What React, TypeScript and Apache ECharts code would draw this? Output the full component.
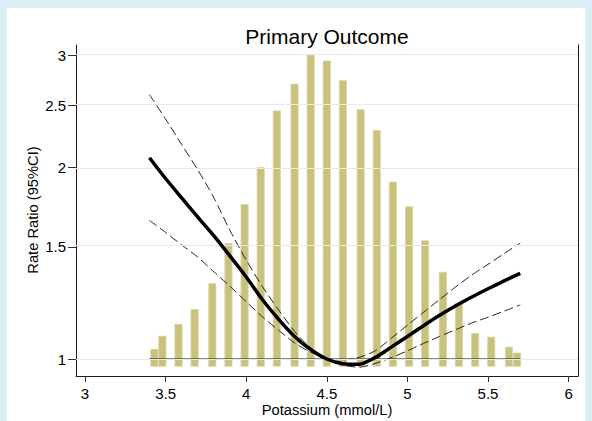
import React, { useEffect, useRef } from "react";
import * as echarts from "echarts";

// Histogram of potassium values (bar centre, relative frequency %)
const barX = [3.43, 3.48, 3.58, 3.68, 3.79, 3.89, 3.99, 4.09, 4.19, 4.3, 4.4, 4.5, 4.6, 4.71, 4.81, 4.91, 5.01, 5.11, 5.22, 5.32, 5.42, 5.52, 5.63, 5.68];
const barPct = [0.57, 0.99, 1.37, 1.85, 2.68, 3.96, 5.21, 6.4, 8.21, 9.07, 10.0, 9.81, 9.18, 8.25, 7.58, 5.93, 5.14, 4.05, 3.04, 2.04, 1.08, 0.96, 0.64, 0.45];

// Spline rate ratio and 95% CI
const curveX = [3.4, 3.5, 3.6, 3.7, 3.8, 3.9, 4.0, 4.1, 4.2, 4.3, 4.4, 4.5, 4.6, 4.7, 4.8, 4.9, 5.0, 5.1, 5.2, 5.3, 5.4, 5.5, 5.6, 5.7];
const rr = [2.07, 1.92, 1.79, 1.67, 1.56, 1.45, 1.345, 1.24, 1.155, 1.085, 1.035, 1.0, 0.983, 0.981, 1.005, 1.044, 1.085, 1.128, 1.171, 1.212, 1.251, 1.289, 1.326, 1.363];
const rrUpper = [2.6, 2.38, 2.17, 1.98, 1.79, 1.59, 1.43, 1.3, 1.195, 1.105, 1.04, 1.0, 0.997, 1.006, 1.03, 1.078, 1.13, 1.184, 1.24, 1.298, 1.355, 1.408, 1.464, 1.52];
const rrLower = [1.65, 1.58, 1.51, 1.445, 1.37, 1.3, 1.23, 1.165, 1.11, 1.06, 1.025, 1.0, 0.978, 0.971, 0.984, 1.005, 1.03, 1.058, 1.085, 1.112, 1.139, 1.163, 1.189, 1.216];

const refX = [3.4, 5.7];
const refY = [1, 1];

const xTicks = [3, 3.5, 4, 4.5, 5, 5.5, 6];
const yTicks = [1, 1.5, 2, 2.5, 3];

const FONT = "'Liberation Sans', Arial, sans-serif";

export default function App() {
  const ref = useRef<HTMLDivElement>(null);

  useEffect(() => {
    if (!ref.current) return;
    const chart = echarts.init(ref.current, undefined, { renderer: "svg" });
    const ln = (v: number) => Math.log(v);
    const pairs = (xs: number[], ys: number[]) => xs.map((x, i) => [x, ln(ys[i])]);
    const dashed = {
      type: "line",
      showSymbol: false,
      symbol: "none",
      smooth: 0.25,
      lineStyle: { color: "#222", width: 1, type: [9, 4] },
      z: 4,
      silent: true,
    };
    chart.setOption({
      animation: false,
      grid: { left: 76, top: 45, width: 502, height: 331 },
      xAxis: {
        type: "value",
        min: 2.9442,
        max: 6.0583,
        axisLine: { show: true, onZero: false, lineStyle: { color: "#1a1a1a", width: 1 } },
        axisTick: { show: true, length: 6, customValues: xTicks, lineStyle: { color: "#333" } },
        axisLabel: { customValues: xTicks, margin: 10, fontSize: 15, color: "#000", fontFamily: FONT },
        splitLine: { show: false },
      },
      yAxis: [
        {
          type: "value",
          min: -0.0614,
          max: 1.1348,
          axisLine: { show: true, onZero: false, lineStyle: { color: "#1a1a1a", width: 1 } },
          axisTick: { show: true, length: 8, customValues: yTicks.map(ln), lineStyle: { color: "#333" } },
          axisLabel: {
            customValues: yTicks.map(ln),
            formatter: (v: number) => String(+Math.exp(v).toFixed(2)),
            margin: 10,
            fontSize: 15,
            color: "#000",
            fontFamily: FONT,
          },
          splitLine: { show: false },
        },
        {
          type: "value",
          position: "right",
          min: -0.298,
          max: 10.311,
          axisLine: { show: true, onZero: false, lineStyle: { color: "#1a1a1a", width: 1 } },
          axisTick: { show: false },
          axisLabel: { show: false },
          splitLine: { show: false },
        },
      ],
      series: [
        {
          type: "line",
          data: [],
          z: 1,
          silent: true,
          markLine: {
            silent: true,
            symbol: "none",
            label: { show: false },
            lineStyle: { color: "#e1ebee", width: 1, type: "solid" },
            data: yTicks.map((t) => ({ yAxis: ln(t) })),
          },
        },
        {
          type: "bar",
          yAxisIndex: 1,
          data: barX.map((x, i) => [x, barPct[i]]),
          barWidth: 8,
          itemStyle: { color: "#c9c27c", borderColor: "#d9d4a2", borderWidth: 0.8 },
          z: 2,
          silent: true,
        },
        {
          type: "line",
          data: pairs(refX, refY),
          showSymbol: false,
          symbol: "none",
          lineStyle: { color: "#111", width: 1 },
          z: 3,
          silent: true,
        },
        { ...dashed, data: pairs(curveX, rrUpper) },
        { ...dashed, data: pairs(curveX, rrLower) },
        {
          type: "line",
          data: pairs(curveX, rr),
          showSymbol: false,
          symbol: "none",
          smooth: 0.25,
          lineStyle: { color: "#000", width: 3.5 },
          z: 5,
          silent: true,
        },
      ],
      graphic: [
        {
          type: "text",
          x: 327,
          y: 36,
          style: { text: "Primary Outcome", font: `21px ${FONT}`, fill: "#000", align: "center", verticalAlign: "middle" },
        },
        {
          type: "text",
          x: 327,
          y: 410,
          style: { text: "Potassium (mmol/L)", font: `14.7px ${FONT}`, fill: "#000", align: "center", verticalAlign: "middle" },
        },
        {
          type: "text",
          x: 33,
          y: 210,
          rotation: Math.PI / 2,
          style: { text: "Rate Ratio (95%CI)", font: `14.7px ${FONT}`, fill: "#000", align: "center", verticalAlign: "middle" },
        },
      ],
    });
    return () => chart.dispose();
  }, []);

  return (
    <div style={{ position: "fixed", left: 0, top: 0, width: 592, height: 421, background: "#dceef3", overflow: "hidden" }}>
      <div style={{ position: "absolute", left: 7, top: 8, width: 578, height: 413, background: "#ffffff" }} />
      <div ref={ref} style={{ position: "absolute", left: 0, top: 0, width: 592, height: 421 }} />
    </div>
  );
}
